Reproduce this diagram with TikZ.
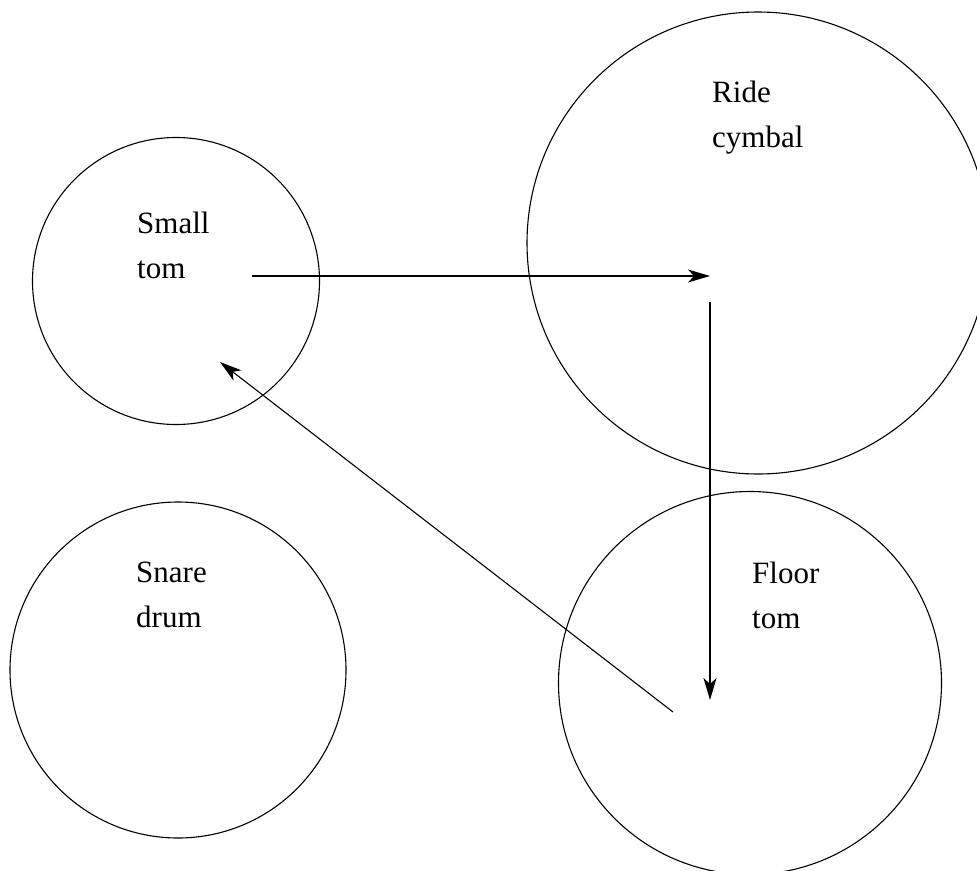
\documentclass[tikz,border=0pt]{standalone}
\usepackage{fontspec}
\setmainfont{Liberation Serif}
\usetikzlibrary{arrows.meta,positioning}
\tikzset{
  drum/.style={draw,circle,inner sep=0pt,line width=1.1pt},
  lbl/.style={anchor=base west,align=left,inner sep=0pt,font=\fontsize{31}{45}\selectfont},
  hit/.style={-{Stealth[length=22pt,width=13pt,inset=6pt]},line width=1.1pt}
}
\begin{document}
\begin{tikzpicture}[x=1pt,y=-1pt]
  \clip (0,0) rectangle (977,870);
  %Drums
  \node[drum,minimum size=287pt] (smalltom) at (176,281) {};
  \node[drum,minimum size=462pt] (ride) at (758,243) {};
  \node[drum,minimum size=336pt] (snare) at (178,670) {};
  \node[drum,minimum size=383pt] (floortom) at (750,683) {};
  %Labels (base = last line)
  \node[lbl] (smalltxt) at (137,278) {Small\\tom};
  \node[lbl] (ridetxt) at (712,147) {Ride\\cymbal};
  \node[lbl] (snaretxt) at (136,627) {Snare\\drum};
  \node[lbl] (floortxt) at (752,628) {Floor\\tom};
  %Stroke points
  \coordinate (smallout) at (252,276);
  \coordinate (ridein) at (710,276);
  \coordinate (rideout) at (710,302);
  \coordinate (floorin) at (710,700);
  \coordinate (floorout) at (673,712);
  \coordinate (smallin) at (220,362);
  %Arrows
  \draw[hit] (smallout) -- (ridein);
  \draw[hit] (rideout) -- (floorin);
  \draw[hit] (floorout) -- (smallin);
\end{tikzpicture}
\end{document}
